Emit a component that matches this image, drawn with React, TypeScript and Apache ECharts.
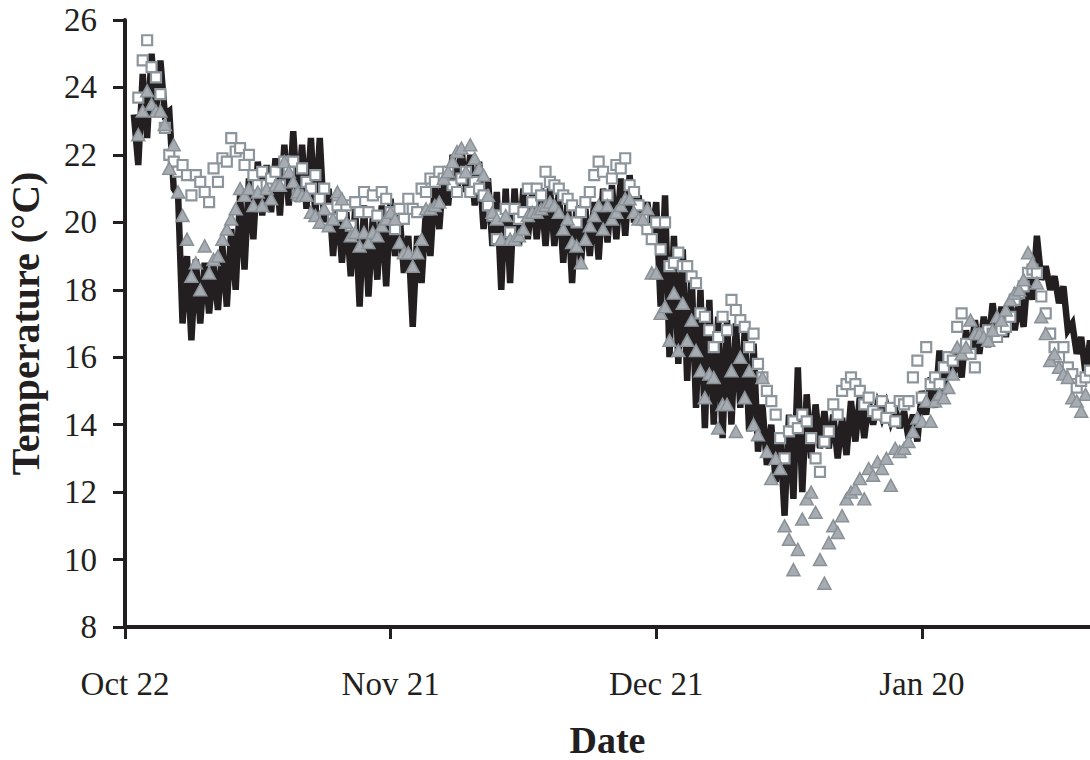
import React, { useEffect, useRef } from "react";
import * as echarts from "echarts";

// X tick labels (every 30 days from Oct 22)
const tickLabels = ["Oct 22", "Nov 21", "Dec 21", "Jan 20"];

// Continuous logger: daily high and low (days 1..109 after Oct 22)
const dailyHigh = [
  23.2, 24.4, 25.0, 24.8, 23.3, 20.8, 19.0, 18.9, 18.8, 18.7,
  19.3, 19.8, 20.8, 21.3, 21.8, 21.7, 21.9, 22.3, 22.7, 22.3,
  22.5, 22.5, 21.0, 20.6, 20.3, 20.4, 20.5, 20.2, 20.5, 20.7,
  20.3, 19.6, 19.6, 20.4, 21.2, 21.6, 22.0, 22.2, 22.0, 21.8,
  21.3, 20.9, 21.0, 21.0, 21.0, 20.9, 21.0, 21.0, 20.9, 20.7,
  20.5, 20.4, 20.6, 21.0, 21.1, 21.3, 21.4, 20.8, 20.6, 20.6,
  20.8, 19.6, 19.2, 18.5, 18.0, 17.7, 17.2, 17.1, 17.0, 16.8,
  16.4, 14.6, 14.0, 13.7, 14.3, 15.7, 14.9, 14.6, 14.4, 14.3,
  14.2, 14.7, 14.8, 14.7, 14.6, 14.6, 14.5, 14.4, 14.3, 15.0,
  15.4, 16.2, 16.0, 16.1, 16.8, 17.1, 17.2, 17.6, 17.5, 17.6,
  17.7, 18.6, 19.6, 18.7, 18.4, 18.1, 17.0, 16.6, 16.5,
];
const dailyLow = [
  21.7, 22.5, 23.3, 23.2, 21.0, 17.0, 16.5, 17.0, 17.3, 17.4,
  17.5, 18.0, 18.6, 19.5, 20.2, 20.3, 20.2, 20.5, 20.6, 20.4,
  20.2, 20.0, 19.0, 18.8, 18.4, 17.5, 17.8, 18.3, 18.1, 19.0,
  18.5, 16.9, 18.2, 19.0, 19.8, 20.5, 20.9, 20.9, 20.5, 19.8,
  19.3, 18.0, 18.2, 19.3, 19.5, 19.5, 19.3, 19.3, 18.8, 18.2,
  18.8, 19.0, 18.9, 19.4, 19.5, 19.6, 20.0, 19.9, 19.5, 17.5,
  16.0, 15.8, 15.3, 14.5, 13.9, 14.0, 13.6, 14.0, 14.5, 13.8,
  13.2, 12.8, 12.3, 11.3, 11.8, 12.0, 13.0, 13.3, 13.3, 13.0,
  13.1, 13.5, 13.6, 14.0, 14.2, 14.1, 13.9, 13.6, 13.5, 14.3,
  14.5, 14.9, 15.4, 15.4, 16.0, 16.1, 16.3, 16.6, 16.6, 16.8,
  16.9, 17.7, 18.3, 18.0, 17.6, 16.8, 16.1, 15.5, 15.6,
];

// Hollow squares: readings every half day starting at day 1.5
const squareTemps = [
  23.7, 24.8, 25.4, 24.6, 24.3, 23.8, 22.8, 22.0, 21.8, 21.5,
  21.7, 21.4, 20.8, 21.4, 21.2, 20.9, 20.6, 21.6, 21.2, 21.9,
  21.8, 22.5, 22.1, 22.2, 21.7, 22.0, 21.4, 21.1, 21.5, 21.1,
  21.3, 21.5, 21.1, 21.8, 21.5, 21.8, 20.8, 21.6, 21.2, 21.0,
  21.4, 20.7, 21.0, 20.4, 20.1, 20.5, 20.2, 20.5, 19.9, 20.6,
  20.3, 20.9, 20.3, 20.8, 20.2, 20.9, 20.7, 20.3, 19.8, 20.4,
  20.1, 20.7, 20.4, 20.3, 21.0, 20.9, 21.3, 21.2, 21.5, 21.3,
  21.5, 21.1, 20.9, 21.3, 21.5, 20.9, 21.2, 21.0, 20.8, 20.5,
  20.2, 19.5, 20.2, 20.4, 19.7, 20.4, 20.1, 20.3, 21.0, 20.6,
  21.0, 20.8, 21.5, 21.2, 21.1, 21.0, 20.8, 20.7, 20.5, 20.0,
  20.3, 20.6, 20.9, 21.4, 21.8, 21.5, 20.8, 21.3, 21.7, 21.6,
  21.9, 21.1, 20.9, 20.5, 20.1, 19.8, 19.5, 20.0, 19.2, 20.0,
  18.7, 18.8, 19.1, 18.7, 18.7, 18.4, 18.2, 17.3, 17.2, 16.8,
  16.3, 16.6, 17.2, 16.8, 17.7, 17.4, 17.1, 16.9, 16.3, 16.7,
  15.8, 15.4, 15.0, 14.7, 14.3, 13.6, 13.0, 13.8, 14.1, 13.9,
  14.3, 14.1, 13.6, 13.0, 12.6, 13.5, 13.8, 14.6, 14.3, 15.0,
  15.2, 15.4, 15.2, 15.0, 14.6, 14.8, 14.4, 14.3, 14.7, 14.2,
  14.5, 14.1, 14.7, 14.6, 14.7, 15.4, 15.9, 14.8, 16.3, 15.2,
  15.4, 15.2, 15.7, 16.0, 15.9, 16.9, 17.3, 16.4, 16.1, 15.7,
  16.7, 16.6, 16.8, 16.7, 16.6, 16.8, 16.9, 17.2, 17.7, 17.9,
  18.1, 18.5, 18.6, 18.5, 17.8, 17.3, 16.7, 16.3, 16.0, 16.3,
  15.7, 15.5, 15.1, 15.3, 15.4, 15.6,
];

// Filled triangles: readings every half day starting at day 1.5
const triangleTemps = [
  22.6, 23.3, 23.9, 23.5, 23.3, 23.3, 22.9, 21.6, 22.3, 20.9,
  20.2, 19.5, 18.4, 18.8, 18.0, 19.3, 18.5, 18.9, 19.0, 19.5,
  19.8, 20.1, 20.4, 21.0, 20.8, 21.0, 20.5, 20.9, 20.5, 21.0,
  20.7, 21.1, 21.1, 21.8, 21.5, 21.2, 20.9, 20.8, 20.8, 20.3,
  20.2, 20.0, 20.4, 19.9, 20.1, 20.9, 20.7, 20.0, 19.6, 19.7,
  19.3, 19.7, 19.4, 19.7, 19.6, 19.9, 20.1, 20.3, 20.1, 19.4,
  19.1, 19.1, 18.7, 19.1, 19.5, 20.4, 20.4, 20.5, 20.6, 21.3,
  21.5, 21.8, 22.1, 22.2, 21.5, 22.3, 21.9, 21.6, 21.4, 20.8,
  20.3, 20.1, 19.5, 20.2, 19.5, 19.5, 19.6, 19.8, 20.2, 20.3,
  20.3, 20.4, 20.5, 20.6, 20.5, 20.3, 19.8, 20.1, 19.4, 19.3,
  18.8, 19.5, 19.9, 20.2, 20.5, 19.8, 20.5, 20.1, 20.3, 20.5,
  20.7, 20.7, 20.3, 20.1, 20.1, 20.4, 18.5, 18.5, 17.3, 17.5,
  16.5, 17.9, 16.2, 17.6, 16.5, 17.1, 16.2, 15.6, 14.8, 15.5,
  15.4, 13.9, 14.6, 14.6, 15.6, 13.8, 16.0, 14.8, 15.6, 14.0,
  13.7, 15.4, 13.2, 12.4, 13.0, 12.7, 11.0, 10.6, 9.7, 10.3,
  11.2, 11.8, 12.0, 11.4, 10.0, 9.3, 10.5, 11.0, 10.8, 11.3,
  11.8, 12.0, 12.1, 12.4, 11.8, 12.7, 12.5, 12.9, 12.7, 13.0,
  12.2, 13.3, 13.2, 13.3, 13.5, 13.8, 14.2, 14.1, 14.7, 14.1,
  14.7, 14.9, 14.8, 15.1, 15.5, 16.3, 16.1, 16.3, 17.1, 16.7,
  16.7, 16.6, 16.5, 16.8, 17.2, 17.1, 17.4, 17.7, 17.9, 18.0,
  18.3, 19.1, 18.8, 18.2, 17.2, 16.7, 15.9, 16.1, 15.7, 15.5,
  15.4, 14.8, 14.7, 14.4, 14.9,
];

const LOGGER_START_DAY = 1;
const SAMPLE_START_DAY = 1.5;
const SAMPLE_STEP = 0.5;

export default function App() {
  const ref = useRef<HTMLDivElement>(null);

  useEffect(() => {
    document.body.style.margin = "0";
    if (!ref.current) return;
    const chart = echarts.init(ref.current, null, { renderer: "svg" });

    const loggerData: [number, number][] = [];
    dailyHigh.forEach((h, i) => {
      const d = LOGGER_START_DAY + i;
      loggerData.push([d, h]);
      loggerData.push([d + 0.5, dailyLow[i]]);
    });
    const squares = squareTemps.map((v, i) => [SAMPLE_START_DAY + i * SAMPLE_STEP, v]);
    const triangles = triangleTemps.map((v, i) => [SAMPLE_START_DAY + i * SAMPLE_STEP, v]);

    const ink = "#231f20";
    const font = "'Liberation Serif', 'Times New Roman', serif";

    chart.setOption({
      animation: false,
      backgroundColor: "#ffffff",
      grid: {
        left: 125,
        right: 0,
        top: 20,
        bottom: 133,
        containLabel: false,
        outerBoundsMode: "none",
      },
      xAxis: {
        type: "value",
        min: 0,
        max: 109,
        interval: 30,
        name: "Date",
        nameLocation: "middle",
        nameGap: 94,
        nameTextStyle: { fontFamily: font, fontSize: 38, fontWeight: "bold", color: ink },
        axisLine: { show: true, lineStyle: { color: ink, width: 4 } },
        axisTick: { show: true, length: 12, inside: false, lineStyle: { color: ink, width: 3 } },
        splitLine: { show: false },
        axisLabel: {
          margin: 40,
          fontFamily: font,
          fontSize: 33,
          color: ink,
          showMaxLabel: false,
          formatter: (v: number) => tickLabels[Math.round(v / 30)] ?? "",
        },
      },
      yAxis: {
        type: "value",
        min: 8,
        max: 26,
        interval: 2,
        name: "Temperature (°C)",
        nameLocation: "middle",
        nameGap: 80,
        nameRotate: 90,
        nameTextStyle: { fontFamily: font, fontSize: 40, fontWeight: "bold", color: ink },
        axisLine: { show: true, lineStyle: { color: ink, width: 4 } },
        axisTick: { show: true, length: 12, lineStyle: { color: ink, width: 3 } },
        splitLine: { show: false },
        axisLabel: { margin: 28, fontFamily: font, fontSize: 33, color: ink },
      },
      series: [
        {
          type: "line",
          data: loggerData,
          symbol: "none",
          lineStyle: { color: ink, width: 6.5, join: "miter" },
          z: 1,
        },
        {
          type: "scatter",
          data: squares,
          symbol: "rect",
          symbolSize: 10,
          itemStyle: { color: "#ffffff", borderColor: "#8d959c", borderWidth: 2.2, opacity: 1 },
          z: 2,
        },
        {
          type: "scatter",
          data: triangles,
          symbol: "triangle",
          symbolSize: [13, 12],
          itemStyle: { color: "#a6acb1", borderColor: "#8a9298", borderWidth: 1.5, opacity: 1 },
          z: 3,
        },
      ],
    });
    return () => chart.dispose();
  }, []);

  return <div ref={ref} style={{ width: 1090, height: 760 }} />;
}
